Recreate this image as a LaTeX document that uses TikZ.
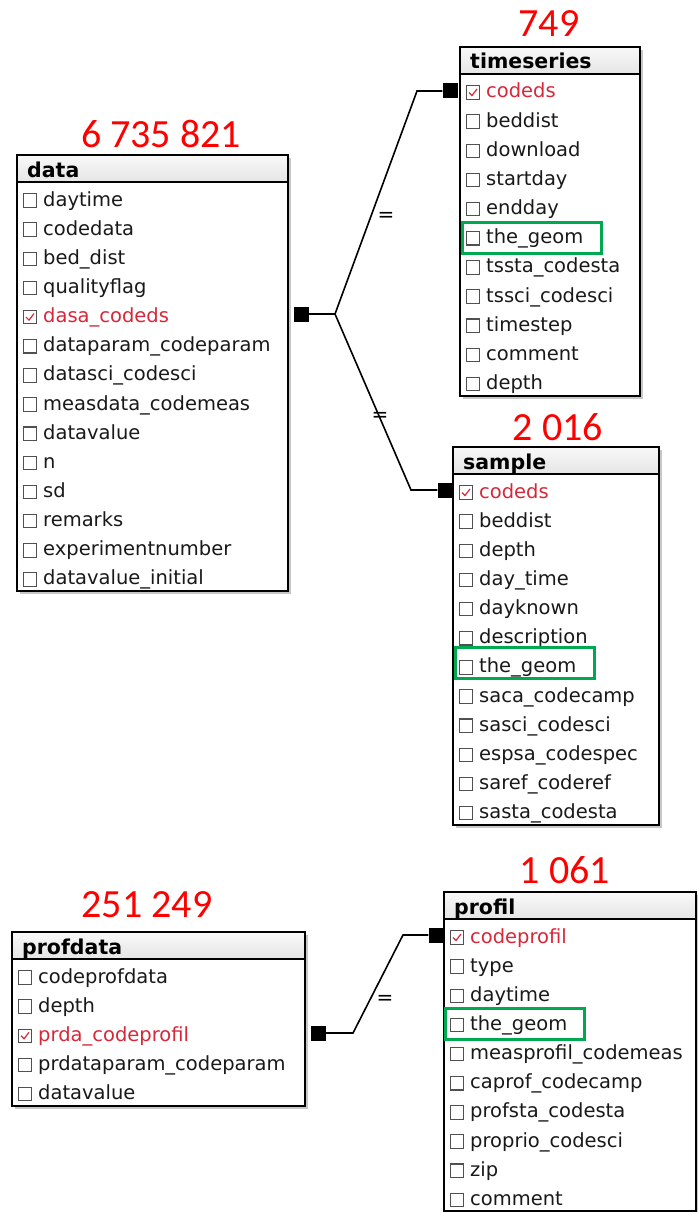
\documentclass[tikz,border=0pt]{standalone}
\usepackage{fontspec}
\newfontfamily\tabfont{DejaVu Sans}
\newfontfamily\numfont{Carlito}
\definecolor{keyred}{RGB}{214,40,57}
\definecolor{countred}{RGB}{255,0,0}
\definecolor{geomgreen}{RGB}{0,168,80}
\definecolor{rowtext}{RGB}{25,25,25}
\definecolor{chkgray}{RGB}{80,80,80}

\tikzset{
  tframe/.style={draw=black, line width=2pt, inner sep=0pt, outer sep=0pt},
  tshadow/.style={fill=black!22},
  thead/.style={font=\tabfont\bfseries\fontsize{20.5}{24}\selectfont, text=black, inner sep=0pt},
  trow/.style={font=\tabfont\fontsize{19.5}{23}\selectfont, anchor=base west, inner sep=0pt},
  rowplain/.style={text=rowtext},
  rowkey/.style={text=keyred},
  chk/.style={draw=chkgray, line width=1.1pt, minimum width=13.5pt, minimum height=13.5pt, inner sep=0pt},
  chkplain/.style={},
  chkkey/.style={path picture={\draw[keyred, line width=1.2pt]
      ([shift={(-4pt,0pt)}]path picture bounding box.center) -- ++(3pt,-3pt) -- ++(5pt,6.5pt);}},
  count/.style={font=\numfont\fontsize{40}{48}\selectfont, text=countred, anchor=base, inner sep=0pt},
  conn/.style={draw=black, line width=1.6pt},
  sq/.style={fill=black, minimum size=15pt, inner sep=0pt},
  eqlbl/.style={font=\tabfont\fontsize{20}{22}\selectfont, inner sep=0pt},
  geombox/.style={draw=geomgreen, line width=3pt, minimum width=139pt, minimum height=31pt, inner sep=0pt, anchor=west},
}

% \erdtable{name}{left}{top}{right}{number of rows}{title}{kind/field,...}
\newcommand\erdtable[7]{%
  \pgfmathsetmacro\tbhb{#3+27}%
  \pgfmathsetmacro\tbbot{\tbhb+30+29.15*(#5-1)}%
  \fill[tshadow] (#2+3,#3+3) rectangle (#4+3,\tbbot+3);
  \fill[white] (#2,#3) rectangle (#4,\tbbot);
  \shade[top color=black!3, bottom color=black!10] (#2+1,#3+1) rectangle (#4-1,\tbhb);
  \node[tframe, anchor=north west, minimum width={(#4-#2)*1pt}, minimum height={(\tbbot-#3)*1pt}] (#1) at (#2,#3) {};
  \draw[black, line width=2pt] (#2,\tbhb) -- (#4,\tbhb);
  \node[thead, anchor=base west] (#1-h) at (#2+10,\tbhb-5) {#6};
  \foreach \rowkind/\rowtext [count=\i] in {#7} {
    \pgfmathsetmacro\ry{\tbhb+17+29.15*(\i-1)}
    \node[chk, chk\rowkind] (#1-c\i) at (#2+13,\ry+1.5) {};
    \node[trow, row\rowkind] (#1-r\i) at (#2+26,\ry+7) {\rowtext};
  }
}

\begin{document}
\begin{tikzpicture}[x=1pt, y=-1pt]
  \useasboundingbox[fill=white] (0,0) rectangle (697,1212);

  % tables
  \erdtable{data}{17}{155}{288}{14}{data}{plain/daytime, plain/codedata, plain/bed\_dist, plain/qualityflag, key/dasa\_codeds, plain/dataparam\_codeparam, plain/datasci\_codesci, plain/measdata\_codemeas, plain/datavalue, plain/n, plain/sd, plain/remarks, plain/experimentnumber, plain/datavalue\_initial}
  \erdtable{ts}{460}{47}{640}{11}{timeseries}{key/codeds, plain/beddist, plain/download, plain/startday, plain/endday, plain/the\_geom, plain/tssta\_codesta, plain/tssci\_codesci, plain/timestep, plain/comment, plain/depth}
  \erdtable{sample}{453}{447}{659}{12}{sample}{key/codeds, plain/beddist, plain/depth, plain/day\_time, plain/dayknown, plain/description, plain/the\_geom, plain/saca\_codecamp, plain/sasci\_codesci, plain/espsa\_codespec, plain/saref\_coderef, plain/sasta\_codesta}
  \erdtable{profdata}{12}{932}{305}{5}{profdata}{plain/codeprofdata, plain/depth, key/prda\_codeprofil, plain/prdataparam\_codeparam, plain/datavalue}
  \erdtable{profil}{444}{892}{696}{10}{profil}{key/codeprofil, plain/type, plain/daytime, plain/the\_geom, plain/measprofil\_codemeas, plain/caprof\_codecamp, plain/profsta\_codesta, plain/proprio\_codesci, plain/zip, plain/comment}

  % row counts
  \node[count] (n-data) at (161,147) {6 735 821};
  \node[count] (n-ts) at (549,37) {749};
  \node[count] (n-sample) at (558,440) {2 016};
  \node[count] (n-profdata) at (147,917) {251 249};
  \node[count] (n-profil) at (565,883) {1 061};

  % geometry fields
  \node[geombox] (g-ts) at (461,238) {};
  \node[geombox] (g-sample) at (453.5,662.5) {};
  \node[geombox] (g-profil) at (443.5,1023.5) {};

  % relation ends
  \node[sq] (s-data) at (301,314) {};
  \node[sq] (s-ts) at (450,91) {};
  \node[sq] (s-sample) at (445,490) {};
  \node[sq] (s-profdata) at (318,1033) {};
  \node[sq] (s-profil) at (436,935) {};

  \coordinate (j-data) at (335,314);
  \coordinate (k-ts) at (417,91);
  \coordinate (k-sample) at (411,490);
  \coordinate (j-prof) at (353,1033);
  \coordinate (k-prof) at (403,935);

  \draw[conn] (s-data.east) -- (j-data) -- (k-ts) -- (s-ts.west);
  \draw[conn] (j-data) -- (k-sample) -- (s-sample.west);
  \draw[conn] (s-profdata.east) -- (j-prof) -- (k-prof) -- (s-profil.west);

  \node[eqlbl] (eq-ts) at (386,217) {=};
  \node[eqlbl] (eq-sample) at (380,417) {=};
  \node[eqlbl] (eq-prof) at (385,1000) {=};
\end{tikzpicture}
\end{document}
